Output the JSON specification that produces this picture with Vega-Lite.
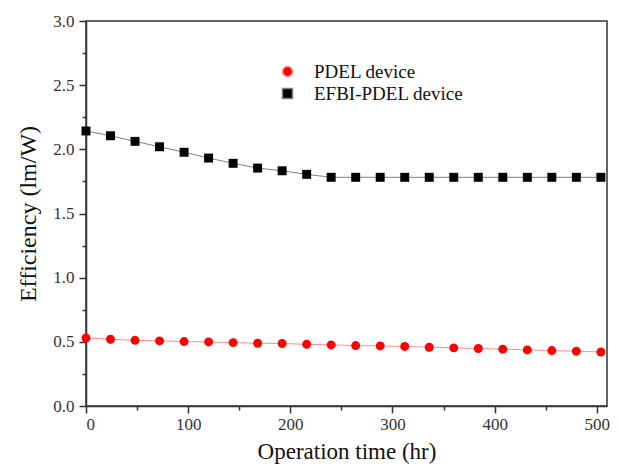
{
  "$schema": "https://vega.github.io/schema/vega-lite/v6.json",
  "width": 521,
  "height": 385,
  "autosize": {"type": "none"},
  "padding": {"left": 86, "top": 21, "right": 12, "bottom": 62},
  "background": "white",
  "config": {
    "view": {"stroke": "#333", "strokeWidth": 1.5},
    "font": "Liberation Serif"
  },
  "data": {
    "values": [
      {"time": 0, "eff": 0.530, "series": "PDEL device"},
      {"time": 24, "eff": 0.520, "series": "PDEL device"},
      {"time": 48, "eff": 0.512, "series": "PDEL device"},
      {"time": 72, "eff": 0.507, "series": "PDEL device"},
      {"time": 96, "eff": 0.502, "series": "PDEL device"},
      {"time": 120, "eff": 0.499, "series": "PDEL device"},
      {"time": 144, "eff": 0.494, "series": "PDEL device"},
      {"time": 168, "eff": 0.489, "series": "PDEL device"},
      {"time": 192, "eff": 0.487, "series": "PDEL device"},
      {"time": 216, "eff": 0.481, "series": "PDEL device"},
      {"time": 240, "eff": 0.476, "series": "PDEL device"},
      {"time": 264, "eff": 0.471, "series": "PDEL device"},
      {"time": 288, "eff": 0.468, "series": "PDEL device"},
      {"time": 312, "eff": 0.464, "series": "PDEL device"},
      {"time": 336, "eff": 0.458, "series": "PDEL device"},
      {"time": 360, "eff": 0.453, "series": "PDEL device"},
      {"time": 384, "eff": 0.448, "series": "PDEL device"},
      {"time": 408, "eff": 0.443, "series": "PDEL device"},
      {"time": 432, "eff": 0.437, "series": "PDEL device"},
      {"time": 456, "eff": 0.432, "series": "PDEL device"},
      {"time": 480, "eff": 0.427, "series": "PDEL device"},
      {"time": 504, "eff": 0.421, "series": "PDEL device"},
      {"time": 0, "eff": 2.143, "series": "EFBI-PDEL device"},
      {"time": 24, "eff": 2.106, "series": "EFBI-PDEL device"},
      {"time": 48, "eff": 2.062, "series": "EFBI-PDEL device"},
      {"time": 72, "eff": 2.020, "series": "EFBI-PDEL device"},
      {"time": 96, "eff": 1.977, "series": "EFBI-PDEL device"},
      {"time": 120, "eff": 1.932, "series": "EFBI-PDEL device"},
      {"time": 144, "eff": 1.891, "series": "EFBI-PDEL device"},
      {"time": 168, "eff": 1.854, "series": "EFBI-PDEL device"},
      {"time": 192, "eff": 1.833, "series": "EFBI-PDEL device"},
      {"time": 216, "eff": 1.805, "series": "EFBI-PDEL device"},
      {"time": 240, "eff": 1.782, "series": "EFBI-PDEL device"},
      {"time": 264, "eff": 1.782, "series": "EFBI-PDEL device"},
      {"time": 288, "eff": 1.782, "series": "EFBI-PDEL device"},
      {"time": 312, "eff": 1.782, "series": "EFBI-PDEL device"},
      {"time": 336, "eff": 1.782, "series": "EFBI-PDEL device"},
      {"time": 360, "eff": 1.782, "series": "EFBI-PDEL device"},
      {"time": 384, "eff": 1.782, "series": "EFBI-PDEL device"},
      {"time": 408, "eff": 1.782, "series": "EFBI-PDEL device"},
      {"time": 432, "eff": 1.782, "series": "EFBI-PDEL device"},
      {"time": 456, "eff": 1.782, "series": "EFBI-PDEL device"},
      {"time": 480, "eff": 1.782, "series": "EFBI-PDEL device"},
      {"time": 504, "eff": 1.782, "series": "EFBI-PDEL device"}
    ]
  },
  "encoding": {
    "x": {
      "field": "time",
      "type": "quantitative",
      "scale": {"domain": [0, 510], "nice": false},
      "axis": {
        "title": "Operation time (hr)",
        "values": [0, 50, 100, 150, 200, 250, 300, 350, 400, 450, 500],
        "labelExpr": "datum.value % 100 === 0 ? datum.label : ''",
        "tickSize": {"condition": {"test": "datum.value % 100 === 0", "value": 7}, "value": 4},
        "labelPadding": 3,
        "titlePadding": 8,
        "grid": false,
        "labelFont": "Liberation Serif",
        "titleFont": "Liberation Serif",
        "titleFontWeight": "normal",
        "titleColor": "#111",
        "labelColor": "#333",
        "labelFontSize": 17,
        "titleFontSize": 23,
        "domainColor": "#333",
        "tickColor": "#333",
        "domainWidth": 1.5,
        "tickWidth": 1.5
      }
    },
    "y": {
      "field": "eff",
      "type": "quantitative",
      "scale": {"domain": [0, 3], "nice": false},
      "axis": {
        "title": "Efficiency (lm/W)",
        "values": [0, 0.25, 0.5, 0.75, 1, 1.25, 1.5, 1.75, 2, 2.25, 2.5, 2.75, 3],
        "format": ".1f",
        "labelExpr": "(datum.value * 2) % 1 === 0 ? datum.label : ''",
        "tickSize": {"condition": {"test": "(datum.value * 2) % 1 === 0", "value": 7}, "value": 4},
        "labelPadding": 5,
        "titlePadding": 12,
        "grid": false,
        "labelFont": "Liberation Serif",
        "titleFont": "Liberation Serif",
        "titleFontWeight": "normal",
        "titleColor": "#111",
        "labelColor": "#333",
        "labelFontSize": 17,
        "titleFontSize": 24,
        "domainColor": "#333",
        "tickColor": "#333",
        "domainWidth": 1.5,
        "tickWidth": 1.5
      }
    }
  },
  "layer": [
    {
      "mark": {"type": "line", "strokeWidth": 1},
      "encoding": {
        "stroke": {
          "field": "series",
          "type": "nominal",
          "scale": {"domain": ["PDEL device", "EFBI-PDEL device"], "range": ["#ff8c8c", "#808080"]},
          "legend": {
            "orient": "none",
            "legendX": 192,
            "legendY": 41,
            "title": null,
            "padding": 0,
            "labelFontSize": 19,
            "labelFont": "Liberation Serif",
            "labelColor": "#111",
            "symbolSize": 100,
            "labelOffset": 17,
            "rowPadding": 2
          }
        }
      }
    },
    {
      "mark": {"type": "point", "filled": true, "size": 80, "opacity": 1},
      "encoding": {
        "shape": {
          "field": "series",
          "type": "nominal",
          "scale": {"domain": ["PDEL device", "EFBI-PDEL device"], "range": ["circle", "square"]},
          "legend": null
        },
        "color": {
          "field": "series",
          "type": "nominal",
          "scale": {"domain": ["PDEL device", "EFBI-PDEL device"], "range": ["#ff0000", "#000000"]},
          "legend": null
        }
      }
    }
  ]
}
